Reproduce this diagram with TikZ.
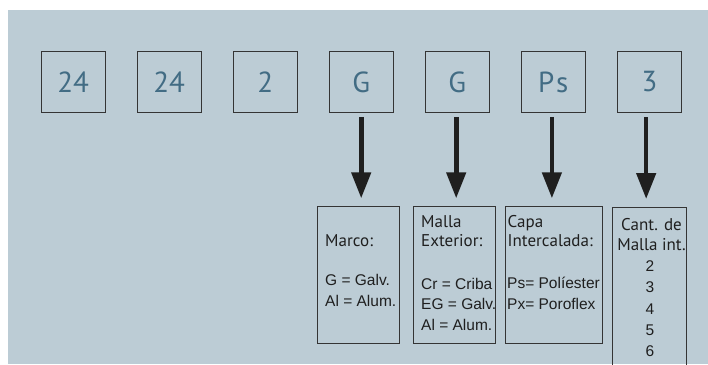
\documentclass[tikz,border=0pt]{standalone}
\usepackage{fontspec}
\setmainfont{Liberation Sans}
\newfontfamily\ptsans{PT Sans}
\usepackage{xcolor}
\usepackage{tikz}
\usetikzlibrary{positioning,arrows.meta}
\definecolor{panel}{RGB}{188,204,213}
\definecolor{codeblue}{RGB}{66,108,132}
\definecolor{edge}{RGB}{52,52,52}

\tikzset{
	codebox/.style={draw=edge,line width=1.3pt,minimum width=64pt,minimum height=61pt,inner sep=0pt,text=codeblue,font=\ptsans\fontsize{29}{30}\selectfont},
	keybox/.style={draw=edge,line width=1.1pt,anchor=north west,inner sep=0pt},
	head/.style={anchor=base west,inner sep=0pt,text=black!88,font=\ptsans\fontsize{17}{20}\selectfont},
	entry/.style={anchor=base west,inner sep=0pt,text=black!88,font=\fontsize{15.5}{18}\selectfont},
	bigarrow/.style={line width=4.6pt,draw=black!88,-{Triangle[width=19pt,length=26pt]},shorten <=3.8pt,shorten >=7.7pt}
}

\begin{document}
\begin{tikzpicture}[x=1pt,y=-1pt,node distance=30.7pt]
		\clip (0,0) rectangle (708,364);
		\fill[panel] (8,10) rectangle (708,364);

		% code boxes
		\node[codebox] (ancho) at (73.2,82) {24};
		\node[codebox] (alto) [right=of ancho] {24};
		\node[codebox] (esp) [right=of alto] {2};
		\node[codebox] (marcoC) [right=of esp] {G};
		\node[codebox] (mallaC) [right=of marcoC] {G};
		\node[codebox] (capaC) [right=of mallaC] {P\hspace{2pt}s};
		\node[codebox,line width=1.8pt] (cantC) [right=of capaC] {3};

		% key boxes
		\node[keybox,minimum width=82pt,minimum height=137pt] (marco) at (317.3,206) {};
		\node[keybox,minimum width=82pt,minimum height=137pt] (malla) at (413.3,206) {};
		\node[keybox,minimum width=97pt,minimum height=137pt] (capa) at (505,206) {};
		\node[keybox,minimum width=73.7pt,minimum height=200pt] (cant) at (612.3,206.7) {};

		\draw[bigarrow] (marcoC.south) -- (marcoC.south |- marco.north);
		\draw[bigarrow] ([xshift=-1pt]mallaC.south) -- ([xshift=-1pt]mallaC.south |- malla.north);
		\draw[bigarrow] ([xshift=-1.3pt]capaC.south) -- ([xshift=-1.3pt]capaC.south |- capa.north);
		\draw[bigarrow] ([xshift=-3.3pt]cantC.south) -- ([xshift=-3.3pt]cantC.south |- cant.north);

		% texts
		\node[head] (marcoT) at (325,246.7) {Marco:};
		\node[entry] (marcoG) at (325,285.7) {G = Galv.};
		\node[entry] (marcoA) at (325,306) {Al = Alum.};

		\node[head] (mallaT) at (421,227) {Malla};
		\node[head] (mallaE) at (421,246.7) {Exterior:};
		\node[entry] (mallaCr) at (421,289) {Cr = Criba};
		\node[entry] (mallaEG) at (421,309.5) {EG = Galv.};
		\node[entry] (mallaA) at (421,330) {Al = Alum.};

		\node[head] (capaT) at (507.5,227) {Capa};
		\node[head] (capaI) at (507.5,246.7) {Intercalada:};
		\node[entry] (capaPs) at (507,288.5) {Ps= Políester};
		\node[entry] (capaPx) at (507,309.3) {Px= Poroflex};

		\node[head,anchor=base] (cantT) at (651.5,230) {Cant. de};
		\node[head,anchor=base] (cantM) at (651.5,250) {Malla int.};
		\foreach \n/\yy in {2/271,3/292.3,4/314.3,5/335,6/356.7}
			\node[entry,anchor=base] (cant\n) at (650,\yy) {\n};
\end{tikzpicture}
\end{document}
